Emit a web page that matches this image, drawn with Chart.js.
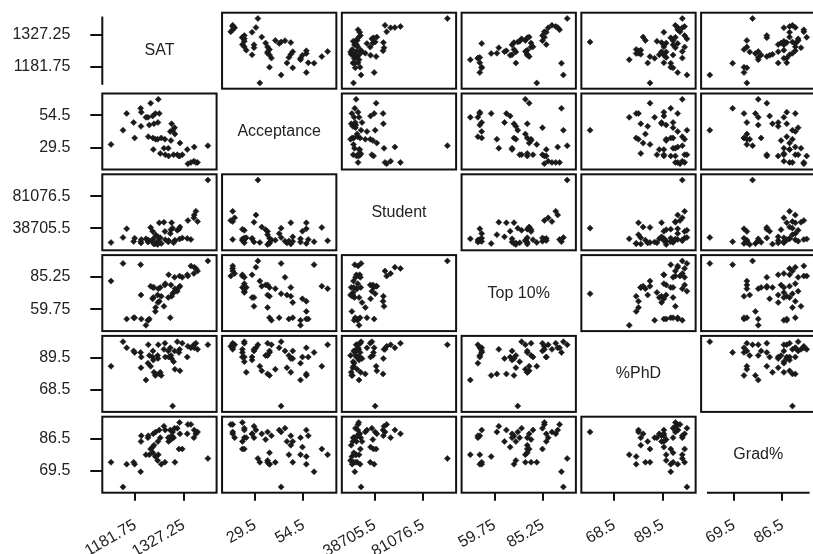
<!DOCTYPE html>
<html>
<head>
<meta charset="utf-8">
<title>College statistics - scatterplot matrix</title>
<script src="https://cdn.jsdelivr.net/npm/chart.js@4.4.1/dist/chart.umd.min.js"></script>
<style>
  html, body { margin: 0; padding: 0; background: #fff; overflow: hidden; }
  #wrap { width: 820px; height: 554px; }
</style>
</head>
<body>
<div id="wrap"><canvas id="splom" width="820" height="554"></canvas></div>
<script>
// one entry per college, same order in every array
const varNames = ['SAT', 'Acceptance', 'Student', 'Top 10%', '%PhD', 'Grad%'];

const sat = [1400, 1369, 1364, 1359, 1358, 1349, 1340, 1338, 1323, 1316,
             1315, 1313, 1308, 1301, 1300, 1297, 1294, 1291, 1289, 1287,
             1282, 1281, 1272, 1271, 1268, 1260, 1257, 1254, 1250, 1249,
             1251, 1243, 1242, 1238, 1236, 1235, 1234, 1228, 1224, 1221,
             1220, 1214, 1199, 1200, 1198, 1180, 1177, 1156, 1145, 1109];
const acceptance = [31, 18, 18, 30, 19, 18, 17, 28, 24, 33,
                    23, 23, 24, 40, 45, 24, 43, 48, 35, 42,
                    23, 29, 24, 36, 29, 37, 25, 56, 49, 36,
                    67, 36, 56, 48, 28, 37, 54, 64, 47, 38,
                    53, 53, 46, 57, 60, 37, 49, 56, 43, 32];
const student = [102262, 47687, 61190, 56306, 52571, 24128, 49123, 25564, 26139, 40504,
                 24703, 37631, 36195, 23266, 21830, 19818, 39068, 46250, 37056, 31885,
                 22691, 20968, 23841, 34758, 46825, 18957, 26412, 45980, 27576, 17520,
                 22430, 30449, 18700, 18095, 24990, 20393, 35020, 39929, 22105, 23520,
                 20650, 24960, 19560, 24080, 21240, 25874, 21570, 38206, 26705, 20120];
const top10 = [98, 90, 92, 93, 88, 94, 86, 87, 85, 78,
               86, 77, 74, 76, 85, 73, 72, 70, 79, 53,
               87, 69, 80, 79, 62, 70, 77, 66, 65, 71,
               76, 61, 58, 77, 69, 77, 68, 78, 52, 51,
               51, 47, 71, 52, 95, 53, 53, 52, 96, 82];
const phd = [98, 95, 99, 96, 98, 96, 97, 90, 99, 81,
             95, 93, 100, 82, 94, 87, 58, 89, 91, 96,
             90, 94, 90, 99, 95, 78, 80, 79, 89, 91,
             98, 79, 78, 80, 88, 94, 90, 84, 91, 98,
             86, 75, 83, 90, 93, 93, 94, 96, 100, 84];
const grad = [76, 90, 89, 91, 87, 94, 94, 89, 81, 89,
              95, 81, 92, 74, 92, 87, 90, 88, 86, 91,
              85, 87, 91, 74, 93, 73, 87, 91, 85, 75,
              78, 90, 77, 83, 89, 79, 82, 81, 78, 88,
              87, 78, 85, 88, 69, 73, 74, 73, 61, 74];

const satTicks = [1181.75, 1327.25];
const acceptanceTicks = [29.5, 54.5];
const studentTicks = [38705.5, 81076.5];
const top10Ticks = [59.75, 85.25];
const phdTicks = [68.5, 89.5];
const gradTicks = [69.5, 86.5];

const columns = [sat, acceptance, student, top10, phd, grad];
const tickSets = [satTicks, acceptanceTicks, studentTicks, top10Ticks, phdTicks, gradTicks];

const N = columns.length;
const PAD = 0.09;           // room around the data inside each panel
const AXIS_EXT = 0.03;      // outer axis line runs a little past the data
const PANEL_W = 115, GAP_W = 5.5;
const PANEL_H = 76, GAP_H = 4.8;
const FONT = 'Arial, "Liberation Sans", sans-serif';

Chart.defaults.font.family = FONT;
Chart.defaults.color = '#222';

function extent(vals) {
  return [Math.min(...vals), Math.max(...vals)];
}

// each variable gets its own x scale (bottom stack) and y scale (left stack);
// invisible spacer scales make the gaps between panels
const scales = {};
columns.forEach((vals, k) => {
  const [lo, hi] = extent(vals);
  const span = hi - lo;
  const base = {
    type: 'linear',
    min: lo - PAD * span,
    max: hi + PAD * span,
    afterBuildTicks: s => { s.ticks = tickSets[k].map(v => ({ value: v })); },
    border: { display: false },
  };
  scales['x' + k] = Object.assign({}, base, {
    position: 'bottom', stack: 'cols', stackWeight: PANEL_W, weight: 2 * k,
    grid: { drawOnChartArea: false, drawTicks: true, tickLength: 8, lineWidth: 2, color: '#111' },
    ticks: {
      autoSkip: false, minRotation: 30, maxRotation: 30, padding: 15,
      font: { size: 16 }, color: '#222',
      callback: (v, i) => String(tickSets[k][i])
    },
    afterFit: s => { s.height = 61.3; s.paddingLeft = 0; s.paddingRight = 0; }
  });
  scales['y' + k] = Object.assign({}, base, {
    position: 'left', stack: 'rows', stackWeight: PANEL_H, weight: 20 - 2 * k,
    grid: { drawOnChartArea: false, drawTicks: true, tickLength: 12, lineWidth: 2, color: '#111' },
    ticks: {
      autoSkip: false, padding: 20, font: { size: 16 }, color: '#222',
      callback: (v, i) => String(tickSets[k][i])
    },
    afterFit: s => { s.width = 102.3; s.paddingTop = 0; s.paddingBottom = 0; }
  });
  if (k < N - 1) {
    scales['xg' + k] = { type: 'linear', display: false, position: 'bottom',
      stack: 'cols', stackWeight: GAP_W, weight: 2 * k + 1, min: 0, max: 1 };
    scales['yg' + k] = { type: 'linear', display: false, position: 'left',
      stack: 'rows', stackWeight: GAP_H, weight: 19 - 2 * k, min: 0, max: 1 };
  }
});

// one scatter dataset per off-diagonal panel
const datasets = [];
for (let r = 0; r < N; r++) {
  for (let c = 0; c < N; c++) {
    if (r === c) continue;
    datasets.push({
      data: columns[c].map((x, i) => ({ x: x, y: columns[r][i] })),
      xAxisID: 'x' + c,
      yAxisID: 'y' + r,
      pointStyle: 'rectRot',
      pointRadius: 3,
      pointBorderWidth: 0.6,
      backgroundColor: '#1a1a1a',
      borderColor: '#1a1a1a'
    });
  }
}

// panel frames, variable names on the diagonal, outer axis lines
const matrixFrame = {
  id: 'matrixFrame',
  afterDatasetsDraw(chart) {
    const ctx = chart.ctx;
    ctx.save();
    ctx.strokeStyle = '#111';
    ctx.lineWidth = 2;
    ctx.fillStyle = '#222';
    ctx.font = '16px ' + FONT;
    ctx.textAlign = 'center';
    ctx.textBaseline = 'middle';
    for (let r = 0; r < N; r++) {
      for (let c = 0; c < N; c++) {
        const xs = chart.scales['x' + c];
        const ys = chart.scales['y' + r];
        if (r === c) {
          ctx.fillText(varNames[r], (xs.left + xs.right) / 2, (ys.top + ys.bottom) / 2);
        } else {
          ctx.strokeRect(xs.left, ys.top, xs.right - xs.left, ys.bottom - ys.top);
        }
      }
    }
    // top-left and bottom-right panels carry only their axis line
    const [ylo, yhi] = extent(columns[0]);
    const ys0 = chart.scales.y0;
    const yext = (yhi - ylo) * AXIS_EXT;
    ctx.beginPath();
    ctx.moveTo(ys0.right, ys0.getPixelForValue(yhi + yext));
    ctx.lineTo(ys0.right, ys0.getPixelForValue(ylo - yext));
    ctx.stroke();
    const [xlo, xhi] = extent(columns[N - 1]);
    const xsL = chart.scales['x' + (N - 1)];
    const xext = (xhi - xlo) * AXIS_EXT;
    ctx.beginPath();
    ctx.moveTo(xsL.getPixelForValue(xlo - xext), xsL.top);
    ctx.lineTo(xsL.getPixelForValue(xhi + xext), xsL.top);
    ctx.stroke();
    ctx.restore();
  }
};

new Chart(document.getElementById('splom'), {
  type: 'scatter',
  data: { datasets: datasets },
  options: {
    responsive: false,
    animation: false,
    devicePixelRatio: 1,
    events: [],
    layout: { padding: { top: 12.7, left: 0, right: 0, bottom: 0 } },
    plugins: { legend: { display: false }, tooltip: { enabled: false } },
    scales: scales
  },
  plugins: [matrixFrame]
});
</script>
</body>
</html>
